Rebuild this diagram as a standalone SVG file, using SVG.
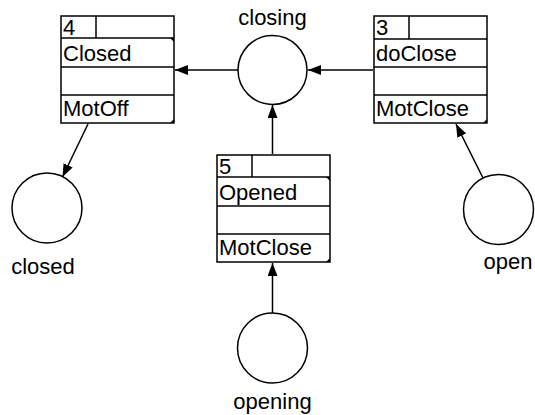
<svg xmlns="http://www.w3.org/2000/svg" width="535" height="415" viewBox="0 0 535 415">
<style>
text{font-family:"Liberation Sans",Arial,sans-serif;font-size:22px;fill:#000}
.b{fill:#fff;stroke:#000;stroke-width:1.5}
.l{stroke:#000;stroke-width:1.5;fill:none}
.c{fill:#fff;stroke:#000;stroke-width:1.5}
.t{fill:#000}
.e{stroke:#000;stroke-width:1.5;fill:none}
</style>
<defs>
<marker id="a" markerWidth="14" markerHeight="10" refX="13" refY="5" orient="auto" markerUnits="userSpaceOnUse">
<path d="M0,0 L13,5 L0,10 Z" fill="#000"/>
</marker>
</defs>
<g id="edges">
<line class="e" x1="238" y1="70" x2="175" y2="70" marker-end="url(#a)"/>
<line class="e" x1="373" y1="70" x2="308" y2="70" marker-end="url(#a)"/>
<line class="e" x1="272.5" y1="154" x2="272.5" y2="105" marker-end="url(#a)"/>
<line class="e" x1="88" y1="124" x2="62.5" y2="177" marker-end="url(#a)"/>
<line class="e" x1="483" y1="178" x2="456" y2="124" marker-end="url(#a)"/>
<line class="e" x1="272.5" y1="313" x2="272.5" y2="263" marker-end="url(#a)"/>
</g>
<g id="box4">
<rect class="b" x="61" y="16" width="113" height="107"/>
<line class="l" x1="61" y1="38" x2="174" y2="38"/>
<line class="l" x1="61" y1="67" x2="174" y2="67"/>
<line class="l" x1="61" y1="95" x2="174" y2="95"/>
<line class="l" x1="96" y1="16" x2="96" y2="38"/>
<path class="t" d="M170,38 L174,38 L174,42 Z"/>
<path class="t" d="M174,119 L174,123 L170,123 Z"/>
<text x="63" y="35">4</text>
<text x="63" y="61">Closed</text>
<text x="63" y="116">MotOff</text>
</g>
<g id="box3">
<rect class="b" x="374" y="16" width="113" height="107"/>
<line class="l" x1="374" y1="39" x2="487" y2="39"/>
<line class="l" x1="374" y1="67" x2="487" y2="67"/>
<line class="l" x1="374" y1="95" x2="487" y2="95"/>
<line class="l" x1="409" y1="16" x2="409" y2="39"/>
<path class="t" d="M487,119 L487,123 L483,123 Z"/>
<text x="376" y="35">3</text>
<text x="376" y="61">doClose</text>
<text x="376" y="116">MotClose</text>
</g>
<g id="box5">
<rect class="b" x="217" y="155" width="113" height="107"/>
<line class="l" x1="217" y1="177" x2="330" y2="177"/>
<line class="l" x1="217" y1="206" x2="330" y2="206"/>
<line class="l" x1="217" y1="234" x2="330" y2="234"/>
<line class="l" x1="252" y1="155" x2="252" y2="177"/>
<path class="t" d="M326,177 L330,177 L330,181 Z"/>
<path class="t" d="M330,258 L330,262 L326,262 Z"/>
<text x="219" y="174">5</text>
<text x="219" y="200">Opened</text>
<text x="219" y="255">MotClose</text>
</g>
<g id="closing">
<circle class="c" cx="272.5" cy="70" r="34.5"/>
<text x="272.5" y="25" text-anchor="middle">closing</text>
</g>
<g id="closed">
<circle class="c" cx="47" cy="208" r="35"/>
<text x="43" y="274" text-anchor="middle">closed</text>
</g>
<g id="open">
<circle class="c" cx="498.5" cy="209.5" r="35"/>
<text x="508" y="269" text-anchor="middle">open</text>
</g>
<g id="opening">
<circle class="c" cx="272.5" cy="348" r="35"/>
<text x="272.5" y="409" text-anchor="middle">opening</text>
</g>
</svg>
